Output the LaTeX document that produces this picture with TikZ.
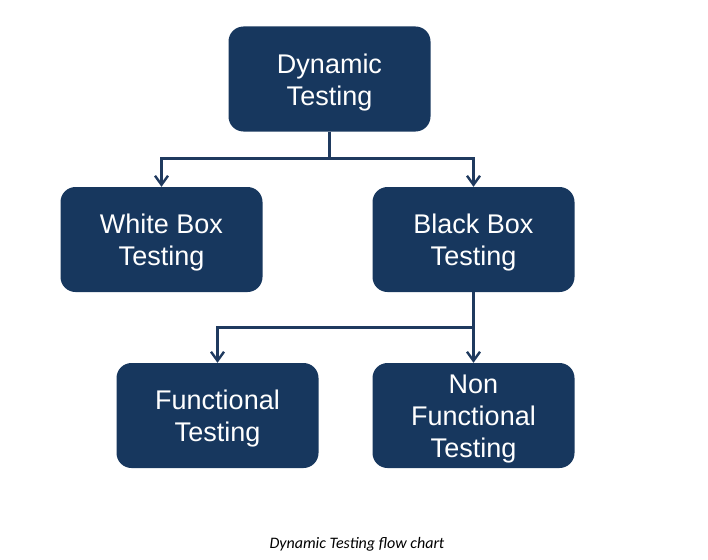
\documentclass[tikz,border=0pt]{standalone}
\usepackage{fontspec}
\setmainfont{Liberation Sans}
\newfontfamily\capfont{Carlito}
\usetikzlibrary{arrows.meta}
\definecolor{boxblue}{HTML}{17375E}
\definecolor{lineblue}{HTML}{1F3A5F}
\begin{document}
\begin{tikzpicture}[x=1pt,y=-1pt,
  box/.style={rectangle, rounded corners=15pt, fill=boxblue,
    minimum width=202pt, minimum height=105pt, inner sep=0pt,
    label={[boxtext]center:#1}},
  boxtext/.style={text=white, align=center, yshift=-3.5pt, font=\fontsize{27}{32}\selectfont},
  conn/.style={draw=lineblue, line width=2.6pt},
  arr/.style={conn, -{Straight Barb[length=9pt,width=13pt,line width=2.4pt]}}]
\path[use as bounding box] (0,0) rectangle (708,559);
\node[box={Dynamic\\Testing}] (dyn) at (329.5,79) {};
\node[box={White Box\\Testing}] (white) at (161.5,239.5) {};
\node[box={Black Box\\Testing}] (black) at (473.5,239.5) {};
\node[box={Functional\\Testing}] (func) at (217.5,415.5) {};
\node[box={Non\\Functional\\Testing}] (nonf) at (473.5,415.5) {};
\node[font=\capfont\itshape\fontsize{16}{18}\selectfont] (cap) at (357,544) {Dynamic Testing flow chart};
\coordinate (j1) at (329.5,158.5);
\coordinate (j2) at (473.5,327.5);
\draw[conn] (dyn.south) -- (j1);
\draw[arr] (j1) -| (white.north);
\draw[arr] (j1) -| (black.north);
\draw[arr] (black.south) -- (nonf.north);
\draw[arr] (j2) -| (func.north);
\end{tikzpicture}
\end{document}
